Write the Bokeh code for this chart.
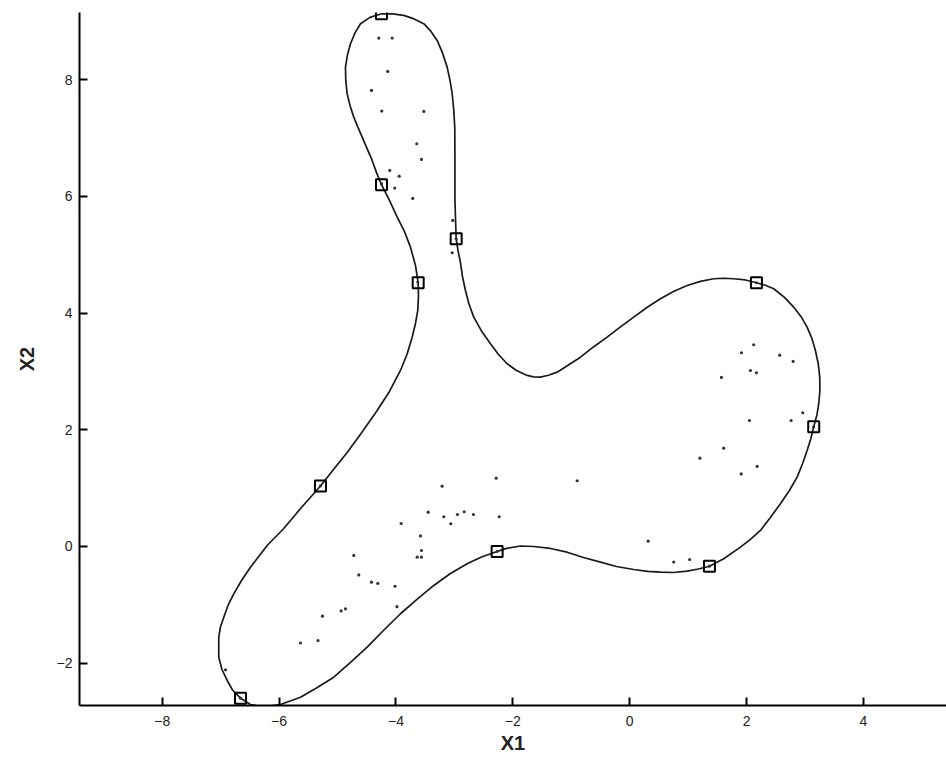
from bokeh.plotting import figure
from bokeh.models import FixedTicker, CustomJSTickFormatter
from bokeh.embed import file_html
from bokeh.resources import INLINE

# Decision boundary, traced as a closed loop (x1, x2)
boundary_x1 = [-4.248, -4.060, -3.867, -3.692, -3.524, -3.401, -3.295, -3.204, -3.124, -3.076,
               -3.038, -3.011, -2.994, -2.991, -2.991, -2.970, -2.939, -2.897, -2.862, -2.811,
               -2.751, -2.669, -2.537, -2.383, -2.246, -2.098, -1.938, -1.755, -1.648, -1.528,
               -1.391, -1.242, -1.049, -0.843, -0.621, -0.387, -0.159, 0.068, 0.294, 0.525,
               0.748, 0.982, 1.210, 1.437, 1.603, 1.779, 1.979, 2.168, 2.322, 2.464,
               2.647, 2.806, 2.929, 3.035, 3.117, 3.177, 3.225, 3.251, 3.254, 3.234,
               3.203, 3.148, 3.100, 3.035, 2.955, 2.864, 2.732, 2.578, 2.407, 2.236,
               2.065, 1.894, 1.608, 1.364, 1.175, 0.982, 0.748, 0.525, 0.303, 0.068,
               -0.228, -0.501, -0.792, -1.071, -1.357, -1.642, -1.870, -2.092, -2.269, -2.537,
               -2.782, -3.068, -3.353, -3.641, -3.923, -4.214, -4.493, -4.778, -5.064, -5.360,
               -5.634, -5.976, -6.284, -6.489, -6.660, -6.797, -6.888, -6.977, -7.032, -7.032,
               -7.003, -6.946, -6.874, -6.775, -6.643, -6.489, -6.204, -5.920, -5.617, -5.292,
               -5.069, -4.835, -4.573, -4.322, -4.111, -3.923, -3.812, -3.723, -3.666, -3.627,
               -3.615, -3.620, -3.666, -3.752, -3.855, -3.979, -4.111, -4.248, -4.334, -4.407,
               -4.496, -4.578, -4.654, -4.722, -4.787, -4.835, -4.859, -4.864, -4.830, -4.778,
               -4.701, -4.607, -4.445, -4.248]
boundary_x2 = [9.129, 9.126, 9.100, 9.040, 8.958, 8.826, 8.672, 8.458, 8.214, 7.986,
               7.758, 7.472, 7.186, 6.615, 5.930, 5.273, 5.073, 4.867, 4.627, 4.387,
               4.156, 3.930, 3.693, 3.474, 3.290, 3.131, 3.016, 2.931, 2.905, 2.901,
               2.934, 2.987, 3.111, 3.244, 3.419, 3.587, 3.762, 3.930, 4.096, 4.245,
               4.370, 4.473, 4.542, 4.588, 4.596, 4.588, 4.567, 4.519, 4.476, 4.416,
               4.267, 4.101, 3.942, 3.758, 3.565, 3.359, 3.136, 2.901, 2.674, 2.446,
               2.254, 2.057, 1.851, 1.645, 1.414, 1.188, 0.960, 0.732, 0.497, 0.274,
               0.123, -0.012, -0.211, -0.338, -0.386, -0.423, -0.446, -0.440, -0.428, -0.394,
               -0.343, -0.269, -0.189, -0.098, -0.034, 0.000, 0.008, -0.029, -0.086, -0.180,
               -0.296, -0.463, -0.668, -0.908, -1.153, -1.440, -1.726, -1.988, -2.240, -2.425,
               -2.583, -2.708, -2.751, -2.708, -2.600, -2.459, -2.296, -2.108, -1.897, -1.554,
               -1.380, -1.212, -1.011, -0.811, -0.583, -0.355, 0.017, 0.308, 0.668, 1.037,
               1.320, 1.611, 1.971, 2.331, 2.656, 3.016, 3.290, 3.587, 3.822, 4.045,
               4.285, 4.519, 4.816, 5.129, 5.398, 5.644, 5.930, 6.199, 6.410, 6.615,
               6.821, 7.015, 7.189, 7.357, 7.558, 7.758, 7.986, 8.214, 8.423, 8.615,
               8.800, 8.958, 9.066, 9.129]

# Support vectors lying on the boundary
sv_x1 = [-4.248, -2.970, -3.620, -4.248, 2.168, 3.148, 1.364, -2.269, -5.292, -6.660]
sv_x2 = [9.129, 5.273, 4.519, 6.199, 4.519, 2.051, -0.338, -0.086, 1.037, -2.600]

# Training samples
data_x1 = [-4.294, -4.065, -4.140, -4.419, -4.243, -3.524, -3.644, -3.564, -4.106, -3.945,
           -4.248, -4.021, -3.713, -3.028, -2.970, -3.038, -3.627,
           -3.210, -2.286, -0.900, -3.449, -3.182, -3.062, -2.948, -2.833, -2.674, -2.234,
           -3.911, -3.581, -3.564, -3.637, -3.564, -4.722, -4.636, -4.419, -4.311, -4.017,
           -3.983, -4.938, -4.864, -5.258, -5.334, -5.634, -6.917, -6.660, -5.292, -2.269,
           0.315, 0.753, 1.025, 1.364, 1.201, 1.608, 2.180, 1.908, 2.048, 2.761, 2.960,
           3.148, 1.569, 2.065, 2.168, 1.911, 2.121, 2.566, 2.796, 2.168]
data_x2 = [8.711, 8.711, 8.141, 7.815, 7.460, 7.455, 6.901, 6.632, 6.444, 6.346,
           6.216, 6.141, 5.964, 5.587, 5.273, 5.033, 4.530,
           1.033, 1.171, 1.126, 0.588, 0.509, 0.389, 0.548, 0.595, 0.548, 0.509,
           0.394, 0.180, -0.069, -0.183, -0.183, -0.154, -0.488, -0.612, -0.634, -0.682,
           -1.032, -1.105, -1.068, -1.195, -1.611, -1.654, -2.113, -2.600, 1.037, -0.086,
           0.091, -0.266, -0.223, -0.338, 1.513, 1.685, 1.371, 1.243, 2.159, 2.159, 2.291,
           2.051, 2.896, 3.016, 2.977, 3.320, 3.457, 3.278, 3.171, 4.519]

x_ticks = [-8, -6, -4, -2, 0, 2, 4]
y_ticks = [-2, 0, 2, 4, 6, 8]

p = figure(width=946, height=761, output_backend="svg", toolbar_location=None,
           x_range=(-9.415, 5.42), y_range=(-2.725, 9.15),
           min_border_left=79, min_border_right=0, min_border_top=12, min_border_bottom=56)
p.outline_line_color = None
p.grid.visible = False
p.background_fill_color = "white"
p.border_fill_color = "white"

p.line(boundary_x1, boundary_x2, line_color="#1a1a1a", line_width=1.7,
       line_join="round")
p.scatter(data_x1, data_x2, marker="circle", size=3.2, fill_color="#333333",
          line_color=None)
p.scatter(sv_x1, sv_x2, marker="square", size=11, fill_color=None,
          line_color="black", line_width=2)

fmt = CustomJSTickFormatter(code="return tick.toString().replace('-', '\\u2212');")

for ax, ticks, label in ((p.xaxis[0], x_ticks, "X1"), (p.yaxis[0], y_ticks, "X2")):
    ax.ticker = FixedTicker(ticks=ticks)
    ax.formatter = fmt
    ax.axis_label = label
    ax.axis_label_text_font = "Liberation Sans"
    ax.axis_label_text_font_style = "bold"
    ax.axis_label_text_font_size = "20px"
    ax.axis_label_text_color = "#222222"
    ax.major_label_text_font = "Liberation Sans"
    ax.major_label_text_font_size = "14px"
    ax.major_label_text_color = "#222222"
    ax.axis_line_width = 2
    ax.axis_line_color = "black"
    ax.major_tick_in = 8
    ax.major_tick_out = 0
    ax.major_tick_line_width = 2
    ax.minor_tick_line_color = None

p.xaxis.major_label_standoff = 10
p.xaxis.axis_label_standoff = 3
p.yaxis.major_label_standoff = 7
p.yaxis.axis_label_standoff = 16

open("out.html", "w").write(file_html(p, INLINE))
